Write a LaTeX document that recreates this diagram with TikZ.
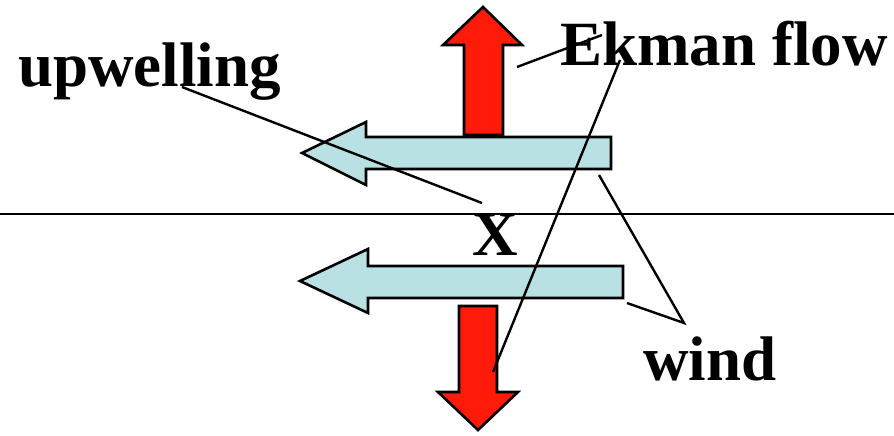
\documentclass[tikz,border=0pt]{standalone}
\usepackage{fontspec}
\setmainfont{Liberation Serif}
\usepackage{tikz}
\usetikzlibrary{positioning}
\definecolor{flowred}{HTML}{FF1A0A}
\definecolor{windcyan}{HTML}{B9E0E3}
\tikzset{
  lbl/.style={font=\fontsize{31.5}{36}\selectfont\bfseries, inner sep=0pt,
              anchor=base west},
  flowarrow/.style={draw=black, fill=flowred, line width=1.3pt, line join=miter},
  windarrow/.style={draw=black, fill=windcyan, line width=1.3pt, line join=miter},
  leader/.style={line width=1.2pt},
  surface/.style={line width=1pt}
}

\begin{document}
\begin{tikzpicture}[x=0.5pt, y=-0.5pt]
  \useasboundingbox (0,0) rectangle (894,435);
  % sea surface
  \coordinate (sL) at (0,214);
  \coordinate (sR) at (894,214);
  \draw[surface] (sL) -- (sR);
  % Ekman flow arrows
  \draw[flowarrow] (464,135) -- (464,45) -- (443,45) -- (483,7) -- (522,45)
    -- (503,45) -- (503,135) -- cycle;
  \draw[flowarrow] (459,306) -- (497,306) -- (497,392) -- (518,392) -- (478,430)
    -- (438,392) -- (459,392) -- cycle;
  % wind arrows
  \draw[windarrow] (611,137) -- (366,137) -- (366,122) -- (302,153) -- (366,185)
    -- (366,169) -- (611,169) -- cycle;
  \draw[windarrow] (623,266) -- (368,266) -- (368,249) -- (300,281) -- (368,313)
    -- (368,298) -- (623,298) -- cycle;
  % labels
  \node[lbl] (upw) at (18,86) {upwelling};
  \node[lbl] (ekm) at (560,65) {Ekman flow};
  \node[lbl] (wnd) at (643,380) {wind};
  \node[lbl, anchor=base] (cross) at (495,255) {X};
  % leader ends
  \coordinate (upwA) at (182,87);
  \coordinate (upwB) at (482,203);
  \coordinate (ekmA) at (602,35);
  \coordinate (ekmB) at (517,67);
  \coordinate (ekmC) at (620,60);
  \coordinate (ekmD) at (493,372);
  \coordinate (wndA) at (684,323);
  \coordinate (wndB) at (599,175);
  \coordinate (wndC) at (627,303);
  \draw[leader] (upwA) -- (upwB);
  \draw[leader] (ekmA) -- (ekmB);
  \draw[leader] (ekmC) -- (ekmD);
  \draw[leader] (wndB) -- (wndA) -- (wndC);
\end{tikzpicture}
\end{document}
